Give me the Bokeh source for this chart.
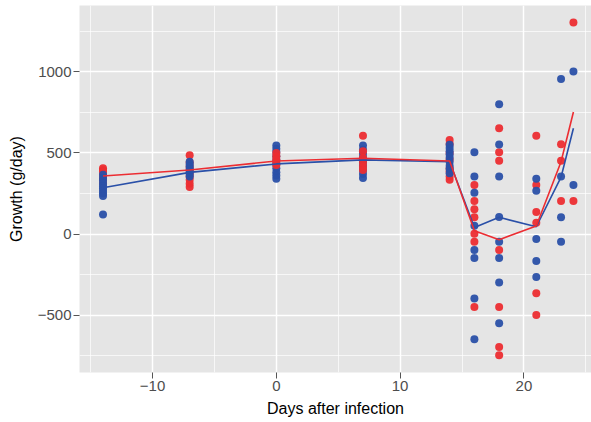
from bokeh.plotting import figure
from bokeh.models import FixedTicker, Range1d
from bokeh.embed import file_html
from bokeh.resources import INLINE

# ---- data ----
days = [-14, -7, 0, 7, 14, 16, 18, 21, 23, 24]
red_mean = [358, 395, 450, 467, 450, 20, -35, 50, 445, 752]
blue_mean = [285, 380, 432, 457, 445, 40, 103, 45, 350, 652]

red_day = ([-14] * 6 + [-7] * 9 + [0] * 5 + [7] * 6 + [14] * 8 + [16] * 7
           + [18] * 7 + [21] * 6 + [23] * 3 + [24] * 2)
red_growth = [405, 395, 385, 365, 340, 315,
              485, 440, 415, 395, 375, 355, 335, 310, 290,
              500, 480, 460, 440, 425,
              605, 510, 470, 440, 415, 395,
              580, 555, 500, 460, 405, 385, 355, 335,
              302, 204, 152, 103, 2, -48, -449,
              652, 504, 452, -99, -449, -696, -747,
              605, 302, 136, 70, -364, -499,
              553, 452, 204,
              1304, 204]

blue_day = ([-14] * 10 + [-7] * 7 + [0] * 10 + [7] * 9 + [14] * 9 + [16] * 8
            + [18] * 8 + [21] * 5 + [23] * 4 + [24] * 2)
blue_growth = [365, 345, 330, 310, 295, 280, 265, 250, 235, 120,
               445, 430, 415, 400, 385, 370, 355,
               545, 525, 505, 480, 455, 430, 405, 380, 360, 340,
               545, 520, 495, 470, 445, 420, 395, 370, 345,
               550, 530, 510, 490, 470, 445, 420, 400, 375,
               504, 354, 255, 51, -99, -148, -397, -648,
               800, 552, 354, 105, -48, -148, -298, -550,
               340, 267, -30, -166, -265,
               955, 354, 103, -48,
               1002, 302]

x_ticks = [-10, 0, 10, 20]
x_minor = [-15, -5, 5, 15, 25]
y_ticks = [-500, 0, 500, 1000]
y_minor = [-750, -250, 250, 750, 1250]

RED = "#EC2D32"
BLUE = "#2A50A8"
FONT = "Liberation Sans"

p = figure(width=591, height=422, output_backend="svg", toolbar_location=None,
           x_range=Range1d(-15.9, 25.46), y_range=Range1d(-853, 1408),
           min_border_left=79, min_border_right=0, min_border_top=5,
           min_border_bottom=50)
p.outline_line_color = None
p.background_fill_color = "#E5E5E5"
p.border_fill_color = "white"

for ax, tk, mn in ((p.xaxis[0], x_ticks, x_minor), (p.yaxis[0], y_ticks, y_minor)):
    ax.ticker = FixedTicker(ticks=tk, minor_ticks=mn)
    ax.major_label_overrides = {t: (str(t).replace("-", "\u2212")) for t in tk}
    ax.axis_line_color = None
    ax.major_tick_line_color = "#555555"
    ax.major_tick_line_width = 1
    ax.major_tick_in = 0
    ax.major_tick_out = 6
    ax.minor_tick_line_color = None
    ax.major_label_text_font = FONT
    ax.major_label_text_font_size = "15px"
    ax.major_label_text_color = "#4D4D4D"
    ax.major_label_standoff = 2
    ax.axis_label_text_font = FONT
    ax.axis_label_text_font_size = "16px"
    ax.axis_label_text_font_style = "normal"
    ax.axis_label_text_color = "black"

p.xaxis.axis_label = "Days after infection"
p.yaxis.axis_label = "Growth (g/day)"
p.xaxis.axis_label_standoff = 6
p.yaxis.axis_label_standoff = 10

for g in (p.xgrid[0], p.ygrid[0]):
    g.grid_line_color = "white"
    g.grid_line_width = 1.5
    g.minor_grid_line_color = "white"
    g.minor_grid_line_width = 0.7
p.xgrid[0].ticker = p.xaxis[0].ticker
p.ygrid[0].ticker = p.yaxis[0].ticker

# points: red under blue except at days 0 and 7
over = (0, 7)
r_under = [(d, v) for d, v in zip(red_day, red_growth) if d not in over]
r_over = [(d, v) for d, v in zip(red_day, red_growth) if d in over]

p.scatter([d for d, v in r_under], [v for d, v in r_under], size=8,
          fill_color=RED, line_color=None, fill_alpha=0.95)
p.scatter(blue_day, blue_growth, size=8, fill_color=BLUE, line_color=None,
          fill_alpha=0.95)
p.scatter([d for d, v in r_over], [v for d, v in r_over], size=8,
          fill_color=RED, line_color=None, fill_alpha=0.95)

p.line(days, blue_mean, line_color=BLUE, line_width=1.6)
p.line(days, red_mean, line_color=RED, line_width=1.6)

open("out.html", "w").write(file_html(p, INLINE))
